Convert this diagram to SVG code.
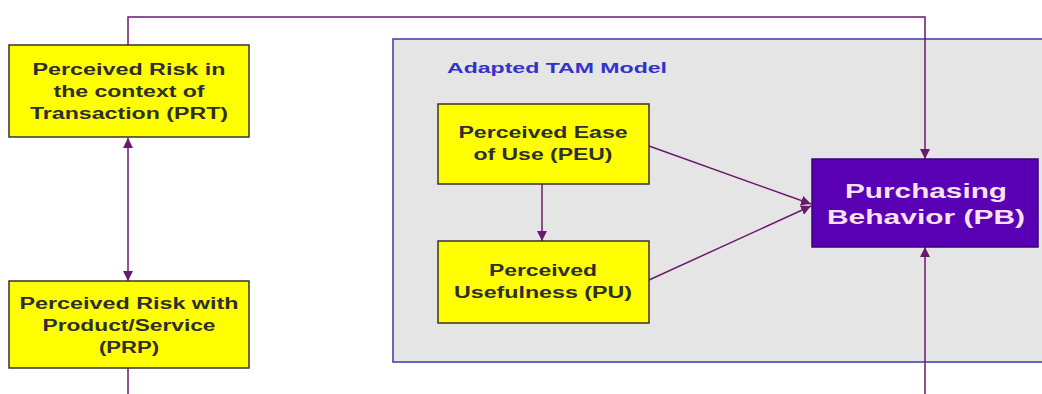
<svg xmlns="http://www.w3.org/2000/svg" width="1042" height="394" viewBox="0 0 1042 394">
  <style>
    .box { fill: #ffff00; stroke: #3a3030; stroke-width: 1.5; }
    .pb { fill: #5a00b4; stroke: #3c0080; stroke-width: 1.5; }
    .lbl { font-family: "Liberation Sans", Arial, sans-serif; font-weight: bold; font-size: 16px; fill: #2e2e2e; text-anchor: middle; }
    .pbl { font-family: "Liberation Sans", Arial, sans-serif; font-weight: bold; font-size: 21px; fill: #f6e2f2; text-anchor: middle; }
    .title { font-family: "Liberation Sans", Arial, sans-serif; font-weight: bold; font-size: 14px; fill: #3232cc; }
    .con { fill: none; stroke: #6a1a6e; stroke-width: 1.5; }
  </style>
  <defs>
    <marker id="arrow" viewBox="0 0 10 10" refX="10" refY="5" markerWidth="10" markerHeight="10" markerUnits="userSpaceOnUse" orient="auto-start-reverse">
      <path d="M0,0 L10,5 L0,10 z" fill="#6a1a6e"/>
    </marker>
  </defs>

  <rect width="1042" height="394" fill="#ffffff"/>

  <!-- TAM container -->
  <g id="tam-container">
    <rect x="393" y="39" width="660" height="323" fill="#e5e5e5" stroke="#3a3aa8" stroke-width="1.5"/>
    <text class="title" x="447" y="73" textLength="220" lengthAdjust="spacingAndGlyphs">Adapted TAM Model</text>
  </g>

  <!-- connectors -->
  <g id="connectors">
    <path class="con" d="M128,45 V17 H925 V159" marker-end="url(#arrow)"/>
    <path class="con" d="M128,138 V281" marker-start="url(#arrow)" marker-end="url(#arrow)"/>
    <path class="con" d="M128,368 V394"/>
    <path class="con" d="M925,394 V247" marker-end="url(#arrow)"/>
    <path class="con" d="M542,184 V241" marker-end="url(#arrow)"/>
    <path class="con" d="M649,146 L811,204" marker-end="url(#arrow)"/>
    <path class="con" d="M649,280 L811,206" marker-end="url(#arrow)"/>
  </g>

  <g id="prt">
    <rect class="box" x="9" y="45" width="240" height="92"/>
    <text class="lbl" x="129" y="75" textLength="193" lengthAdjust="spacingAndGlyphs">Perceived Risk in</text>
    <text class="lbl" x="129" y="97" textLength="151" lengthAdjust="spacingAndGlyphs">the context of</text>
    <text class="lbl" x="129" y="119" textLength="198" lengthAdjust="spacingAndGlyphs">Transaction (PRT)</text>
  </g>

  <g id="prp">
    <rect class="box" x="9" y="281" width="240" height="87"/>
    <text class="lbl" x="129" y="309" textLength="219" lengthAdjust="spacingAndGlyphs">Perceived Risk with</text>
    <text class="lbl" x="129" y="331" textLength="173" lengthAdjust="spacingAndGlyphs">Product/Service</text>
    <text class="lbl" x="129" y="353" textLength="60" lengthAdjust="spacingAndGlyphs">(PRP)</text>
  </g>

  <g id="peu">
    <rect class="box" x="438" y="104" width="211" height="80"/>
    <text class="lbl" x="543" y="138" textLength="169" lengthAdjust="spacingAndGlyphs">Perceived Ease</text>
    <text class="lbl" x="543" y="160" textLength="139" lengthAdjust="spacingAndGlyphs">of Use (PEU)</text>
  </g>

  <g id="pu">
    <rect class="box" x="438" y="241" width="211" height="82"/>
    <text class="lbl" x="543" y="276" textLength="108" lengthAdjust="spacingAndGlyphs">Perceived</text>
    <text class="lbl" x="543" y="298" textLength="178" lengthAdjust="spacingAndGlyphs">Usefulness (PU)</text>
  </g>

  <g id="pb">
    <rect class="pb" x="812" y="159" width="226" height="88"/>
    <text class="pbl" x="926" y="198" textLength="162" lengthAdjust="spacingAndGlyphs">Purchasing</text>
    <text class="pbl" x="926" y="224" textLength="198" lengthAdjust="spacingAndGlyphs">Behavior (PB)</text>
  </g>
</svg>
